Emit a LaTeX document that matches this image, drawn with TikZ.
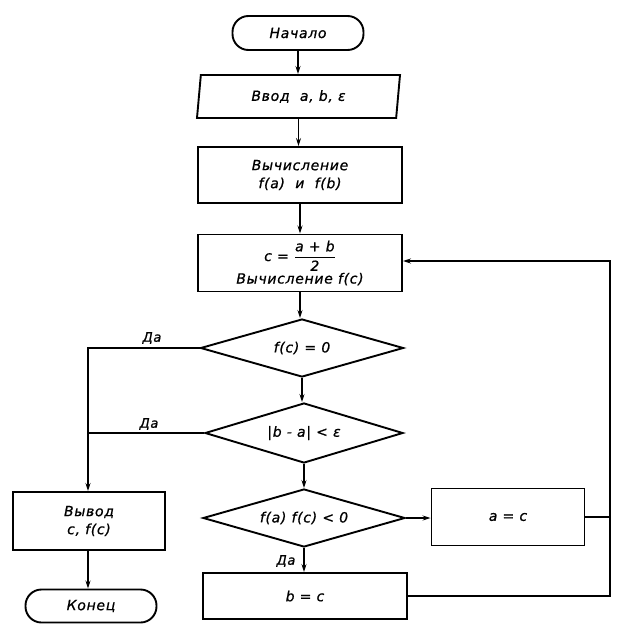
\documentclass[tikz,border=0pt]{standalone}
\usepackage{fontspec}
\newfontfamily\hand{DejaVu Sans Oblique}[LetterSpace=5,FakeBold=0.8]
\usetikzlibrary{shapes.geometric,arrows.meta}
\begin{document}
\begin{tikzpicture}[x=1pt,y=-1pt,line width=1.9pt,
  every node/.style={font=\hand\fontsize{14}{18}\selectfont,inner sep=0pt,align=center},
  termbox/.style={draw,rounded corners=16pt,minimum width=131pt,minimum height=34pt},
  iobox/.style={draw,trapezium,trapezium left angle=73,trapezium right angle=107,trapezium stretches body,minimum width=203pt,minimum height=43pt},
  procbox/.style={draw,rectangle,minimum width=204pt},
  decision/.style={draw,diamond,shape aspect=3.5,minimum width=203pt,minimum height=58pt},
  lbl/.style={font=\hand\fontsize{13}{15}\selectfont},
  arr/.style={-{Stealth[length=8pt,width=5pt]}}]
\useasboundingbox (0,0) rectangle (622,632);
\node[termbox] (start) at (298,33) {Начало};
\node[iobox] (inp) at (298.5,96.5) {Ввод \ a, b, ε};
\node[procbox,minimum height=56pt] (calc1) at (300,175) {Вычисление\\ f(a) \ и \ f(b)};
\node[procbox,minimum height=57pt] (calc2) at (300,263) {c = $\displaystyle{\hbox{a + b}\over\hbox{2}}$\\[1pt] Вычисление f(c)};
\node[decision] (d1) at (302,348) {f(c) = 0};
\node[decision,shape aspect=3.3,minimum width=198pt,minimum height=60pt] (d2) at (304,433) {|b - a| < ε};
\node[decision,minimum width=202pt] (d3) at (304,518) {f(a) f(c) < 0};
\node[procbox,minimum width=153pt,minimum height=57pt] (ac) at (508,517) {a = c};
\node[procbox,minimum height=46pt] (bc) at (305,596) {b = c};
\node[procbox,minimum width=152pt,minimum height=58pt] (out) at (89,521) {Вывод\\ c, f(c)};
\node[termbox,minimum height=33pt] (end) at (91,606) {Конец};
\coordinate (Rt) at (610,261);
\coordinate (L1) at (88,348);
\coordinate (L2) at (88,433);
\draw[arr] (start.south) -- (start.south |- inp.north);
\draw[arr] (inp.south) -- (inp.south |- calc1.north);
\draw[arr] (calc1.south) -- (calc1.south |- calc2.north);
\draw[arr] (calc2.south) -- (calc2.south |- d1.north);
\draw[arr] (d1.south) -- (d1.south |- d2.north);
\draw[arr] (d2.south) -- (d2.south |- d3.north);
\draw[arr] (d3.south) -- (d3.south |- bc.north);
\draw[arr] (d3.east) -- (d3.east -| ac.west);
\draw[arr] (d1.west) -- (L1) -- (L1 |- out.north);
\draw (d2.west) -- (L2);
\draw[arr] (L1 |- out.south) -- (L1 |- end.north);
\draw (ac.east) -- (ac.east -| Rt);
\draw[arr] (bc.east) -- (bc.east -| Rt) -- (Rt) -- (Rt -| calc2.east);
\node[lbl] (da1) at (152,338) {Да};
\node[lbl] (da2) at (149,424) {Да};
\node[lbl] (da3) at (286,561) {Да};
\end{tikzpicture}
\end{document}
